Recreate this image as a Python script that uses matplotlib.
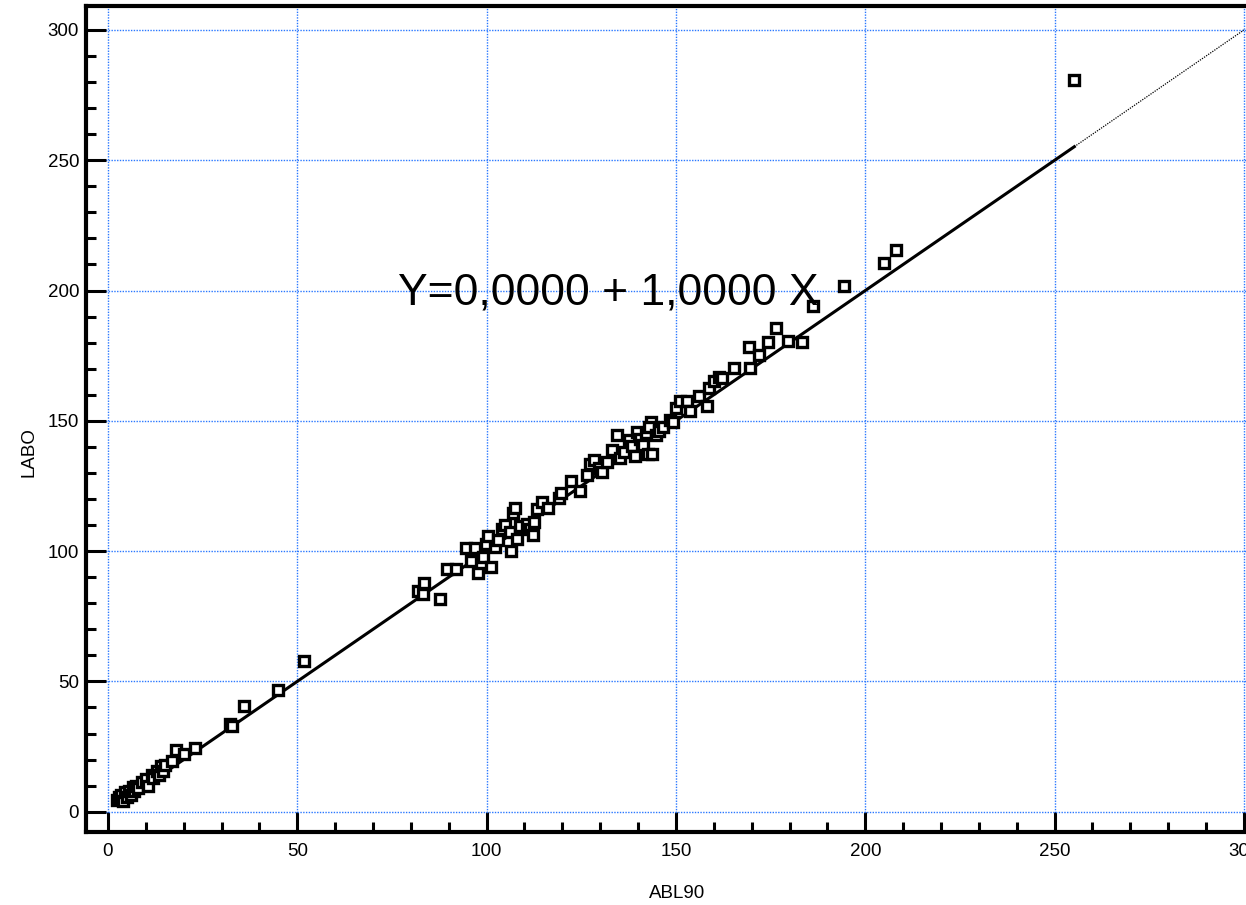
import numpy as np
import matplotlib.pyplot as plt
from matplotlib.ticker import MultipleLocator

plt.rcParams['font.family'] = ['Liberation Sans', 'DejaVu Sans']

abl90 = [2.5, 3, 3.5, 4, 4.5, 5, 5.5, 6, 6.5, 7, 7.5, 8, 9, 10, 10.5, 11.5, 12,
         13, 13.5, 14, 14.5, 15, 17, 18, 20, 23,
         32.1, 32.7, 35.8, 44.8, 51.9,
         81.9, 83.2, 83.5, 87.7, 89.5, 91.9, 94.5, 96.9, 97.7, 95.9, 99, 99.8,
         100.3, 101.1, 102.2, 103, 104, 104.8, 106.1, 106.9, 107.5, 106.4, 108,
         108.8, 110.6, 111.4, 112.2, 112.5, 113.2, 114.6, 116.1, 119, 119.6,
         122.2, 124.6, 126.4, 127.2, 128.3, 129.6, 130.6, 131.9, 133, 134.3,
         135.1, 136.4, 137.5, 138.5, 139.1, 139.6, 140.4, 141.2, 142.2, 142.7,
         143.5, 143, 143.8, 144.6, 145.6, 146.7, 148.3, 149.3, 149.9, 151.2,
         152.8, 153.8, 156.2, 158.3, 158.8, 160.1, 161.4, 162.2, 165.4, 169.3,
         169.6, 172, 174.4, 176.5, 179.6, 183.3, 186.2, 194.4, 204.9, 208.1,
         255.2]
labo = [4.5, 5.5, 6.5, 4, 7.5, 5.5, 8, 6.5, 9.5, 8, 10, 9, 11.5, 12.5, 10, 14, 13,
        15.5, 14, 17.5, 15.5, 18, 19.5, 23.5, 22, 24.5,
        33.7, 33, 40.6, 46.7, 57.9,
        84.7, 83.5, 87.7, 81.6, 93.1, 93.1, 101.1, 101.1, 91.6, 96.2, 97.7, 102.7,
        105.7, 93.9, 101.5, 104.2, 108.4, 110, 107.3, 114.6, 116.5, 100, 104.6,
        109.6, 110.3, 108.4, 106.1, 111.1, 116.1, 118.8, 116.5, 120.3, 122.2,
        126.8, 123, 129.1, 133.3, 134.9, 131.8, 130.3, 134.1, 138.7, 144.4,
        135.6, 137.9, 142.5, 140.2, 136.4, 145.6, 142.9, 140.6, 145.2, 137.2,
        149.4, 147.5, 137.2, 144.4, 146, 147.5, 150.2, 149.4, 154.8, 157.5,
        157.5, 153.6, 159.4, 155.6, 162.5, 165.1, 166.7, 166.3, 170.1, 178.5,
        170.1, 175.1, 180.1, 185.8, 180.5, 180.1, 193.9, 201.9, 210.7, 215.7,
        280.8]

# regression shown on the chart
intercept = 0.0
slope = 1.0
x_end = 300

fig = plt.figure(figsize=(12.46, 9.05), dpi=100)
ax = fig.add_axes([86 / 1246, 73 / 905, 1164 / 1246, 826 / 905])
ax.set_xlim(-5.8, 301.6)
ax.set_ylim(-7.8, 309.2)

# grid
ax.grid(True, which='major', color='#2a78ff', linestyle=(0, (1, 1)), linewidth=1.0)
ax.set_axisbelow(True)

# scatter
ax.plot(abl90, labo, linestyle='none', marker='s', markersize=7,
        markerfacecolor='white', markeredgecolor='black', markeredgewidth=2.4, zorder=3)

# fitted line: solid over the data range, dotted beyond
x = np.array(abl90)
xs = np.array([x.min(), x.max()])
ax.plot(xs, intercept + slope * xs, color='black', linewidth=2.2, zorder=2)
xe = np.array([x.max(), x_end])
ax.plot(xe, intercept + slope * xe, color='black', linewidth=0.9, linestyle=(0, (1, 1)), zorder=2)

ax.text(76.6, 194.6, 'Y=0,0000 + 1,0000 X', fontsize=32, ha='left', va='baseline', zorder=4)

# axes styling
for side in ['left', 'bottom', 'top']:
    ax.spines[side].set_linewidth(3)
ax.spines['right'].set_visible(False)

ax.xaxis.set_major_locator(MultipleLocator(50))
ax.xaxis.set_minor_locator(MultipleLocator(10))
ax.yaxis.set_major_locator(MultipleLocator(50))
ax.yaxis.set_minor_locator(MultipleLocator(10))
ax.tick_params(which='major', direction='in', length=14.5, width=2.2, labelsize=13.5)
ax.tick_params(which='minor', direction='in', length=7.5, width=2.2)
ax.tick_params(axis='x', which='major', pad=8)
ax.tick_params(axis='y', which='major', pad=5)
ax.tick_params(top=False, right=False, which='both')

ax.set_xlabel('ABL90', fontsize=13.5)
ax.set_ylabel('LABO', fontsize=13.5)
ax.xaxis.set_label_coords(0.508, -0.064)
ax.yaxis.set_label_coords(-0.042, 0.46)

fig.savefig('out.png', dpi=100)
